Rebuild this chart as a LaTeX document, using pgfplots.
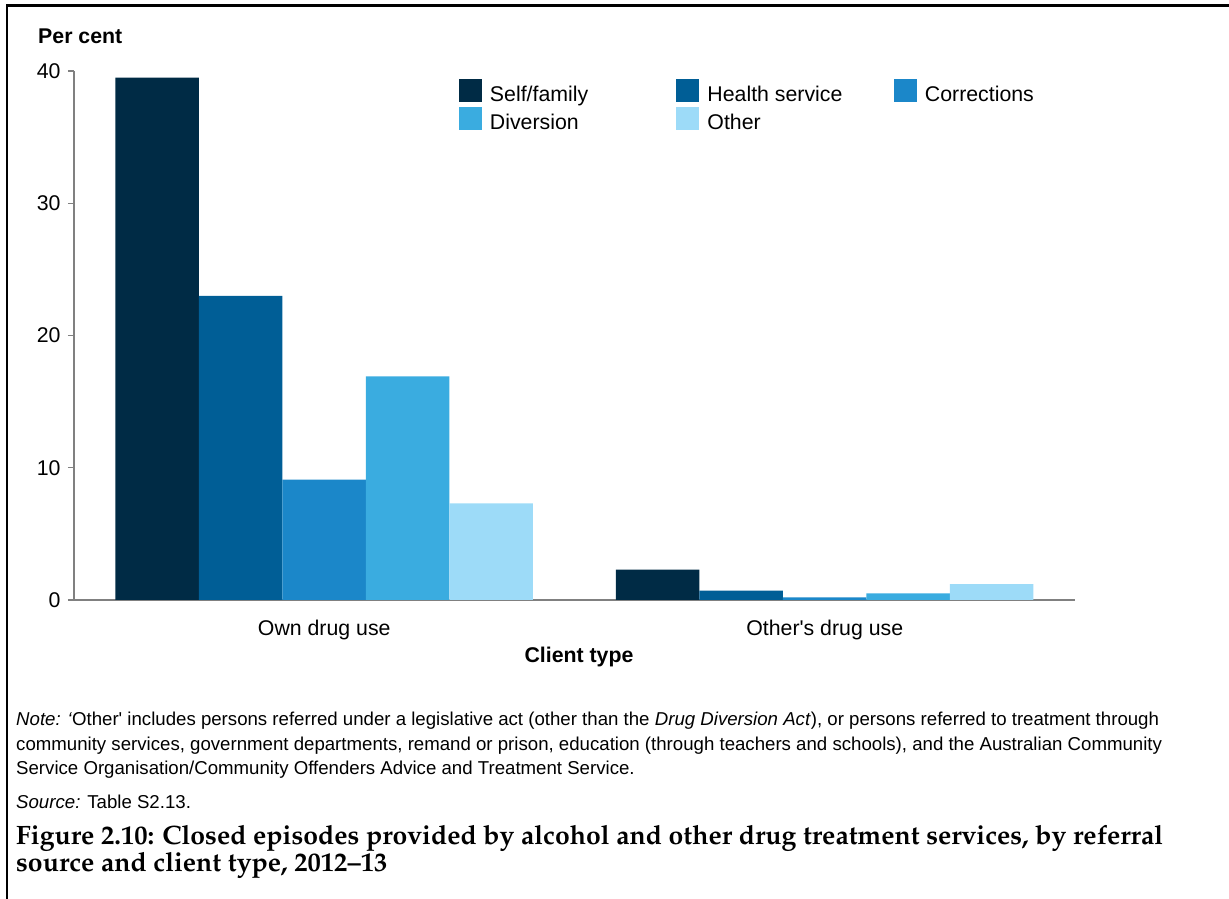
\documentclass[border=0pt]{standalone}
\usepackage[T1,TU]{fontenc}
\usepackage{fontspec}
\setmainfont{Liberation Sans}
\usepackage{graphicx}
\usepackage{pgfplots}
\pgfplotsset{compat=1.18}
\definecolor{c1}{HTML}{002B45}
\definecolor{c2}{HTML}{005E96}
\definecolor{c3}{HTML}{1B87C9}
\definecolor{c4}{HTML}{3AACE0}
\definecolor{c5}{HTML}{9DDBF8}
\definecolor{axisgray}{HTML}{808080}
\newcommand\capfont{\fontencoding{T1}\fontfamily{ppl}\fontseries{b}\fontshape{n}\selectfont}
\newcommand\mainsz{\fontsize{21.3}{25}\selectfont}
\newcommand\notesz{\fontsize{18.64}{24.5}\selectfont}
\begin{document}
\sbox0{\fontsize{25}{30}\capfont Figure 2.10: Closed episodes provided by alcohol and other drug treatment services, by referral}%
\pgfmathsetmacro\capsize{1147/\the\wd0*25}%
\begin{tikzpicture}[x=1pt,y=1pt]
\path[use as bounding box] (0,0) rectangle (1229,899);
\draw[line width=2.2pt] (7,0) -- (7,893.5) -- (1229,893.5);
\begin{axis}[
  at={(74pt,299pt)}, anchor=south west,
  scale only axis, width=1001pt, height=529pt,
  xmin=-0.5, xmax=1.5, ymin=0, ymax=40,
  ybar=0pt, bar width=83.5pt,
  axis x line*=bottom, axis y line*=left,
  axis line style={draw=axisgray, line width=1.6pt},
  ytick={0,10,20,30,40},
  xtick={0,1}, xticklabels={Own drug use, Other\textquotesingle s drug use},
  tick align=outside, major tick length=6pt,
  ytick style={draw=axisgray, line width=1.3pt},
  xtick style={draw=none},
  tick label style={font=\mainsz, text=black},
  /pgf/number format/assume math mode=true,
  yticklabel style={anchor=east, inner sep=0pt, xshift=-7.3pt},
  xticklabel style={anchor=base, inner sep=0pt, yshift=-30pt},
  legend columns=3,
  legend style={at={(0.3846,0.9849)}, anchor=north west, draw=none, fill=none,
    inner sep=0pt, outer sep=0pt, column sep=8pt, row sep=5pt, font=\mainsz,
    cells={anchor=base west}, nodes={inner sep=0pt, text depth=0pt}},
  every axis plot/.append style={draw=none,
    legend image code/.code={\fill[##1] (0pt,0pt) rectangle (23pt,23pt);}},
]
\addplot[fill=c1] coordinates {(0,39.5) (1,2.3)};
\addlegendentry{\makebox[178.5pt][l]{Self/family}}
\addplot[fill=c2] coordinates {(0,23.0) (1,0.7)};
\addlegendentry{\makebox[178.5pt][l]{Health service}}
\addplot[fill=c3] coordinates {(0,9.1) (1,0.2)};
\addlegendentry{Corrections}
\addplot[fill=c4] coordinates {(0,16.9) (1,0.5)};
\addlegendentry{\makebox[178.5pt][l]{Diversion}}
\addplot[fill=c5] coordinates {(0,7.3) (1,1.2)};
\addlegendentry{\makebox[178.5pt][l]{Other}}
\end{axis}
\node[anchor=base west, inner sep=0pt, font=\bfseries\mainsz] at (38,855.5) {Per cent};
\node[anchor=base, inner sep=0pt, font=\bfseries\mainsz] at (579,236) {Client type};
\node[anchor=base west, inner sep=0pt, font=\notesz] at (16,173) {\textit{Note: ‘}Other\textquotesingle\ includes persons referred under a legislative act (other than the \textit{Drug Diversion Act}), or persons referred to treatment through};
\node[anchor=base west, inner sep=0pt, font=\notesz] at (16,148.5) {community services, government departments, remand or prison, education (through teachers and schools), and the Australian Community};
\node[anchor=base west, inner sep=0pt, font=\notesz] at (16,124) {Service Organisation/Community Offenders Advice and Treatment Service.};
\node[anchor=base west, inner sep=0pt, font=\notesz] at (16,90) {\textit{Source:} Table S2.13.};
\node[anchor=base west, inner sep=0pt] at (16,54) {\fontsize{\capsize}{30}\capfont Figure 2.10: Closed episodes provided by alcohol and other drug treatment services, by referral};
\node[anchor=base west, inner sep=0pt] at (16,27) {\fontsize{\capsize}{30}\capfont source and client type, 2012--13};
\end{tikzpicture}
\end{document}
